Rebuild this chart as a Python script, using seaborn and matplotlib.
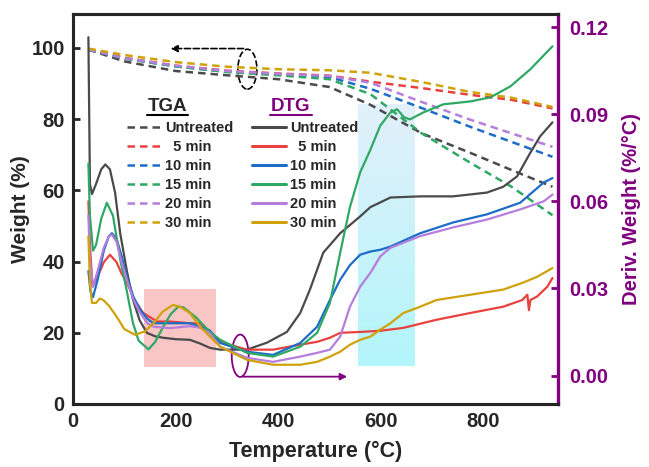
import numpy as np
import pandas as pd
import seaborn as sns
import matplotlib.pyplot as plt
from matplotlib.lines import Line2D
from matplotlib.patches import Ellipse, Rectangle
from matplotlib.colors import LinearSegmentedColormap

samples = ["Untreated", "5 min", "10 min", "15 min", "20 min", "30 min"]
legend_labels = ["Untreated", "  5 min", "10 min", "15 min", "20 min", "30 min"]
colors = ["#4a4a4a", "#e8413e", "#1c6cc8", "#2fa865", "#b57edc", "#cfa20a"]

# TGA (weight %, left axis)
tga_T = [30, 100, 200, 300, 400, 500, 580, 680, 775, 855, 935]
tga_untreated = [99.5, 96.2, 93.5, 92.3, 91.2, 89.0, 84.0, 76.0, 70.5, 65.7, 61.0]
tga_5 = [99.5, 97.2, 95.0, 93.6, 92.8, 92.2, 90.5, 88.7, 86.8, 85.4, 83.0]
tga_10 = [99.5, 97.0, 94.8, 93.3, 92.5, 91.8, 88.5, 83.1, 77.8, 73.6, 69.4]
tga_15 = [99.5, 97.0, 94.8, 93.2, 92.3, 91.2, 87.0, 76.0, 67.7, 61.0, 53.0]
tga_20 = [99.5, 97.1, 95.0, 93.5, 92.7, 92.1, 90.2, 84.8, 79.8, 76.0, 72.2]
tga_30 = [99.8, 98.0, 96.0, 94.7, 94.0, 93.7, 93.0, 90.4, 87.6, 86.0, 83.4]

# DTG (%/°C, right axis)
dtg_untreated_T = [30, 33, 37, 45, 55, 63, 72, 82, 92, 105, 117, 130, 144, 160, 176, 200, 228, 248, 267,
                   287, 339, 378, 417, 443, 462, 488, 521, 560, 580, 599, 619, 677, 741, 807, 839, 866,
                   892, 911, 935]
dtg_untreated = [0.1165, 0.066, 0.0625, 0.066, 0.071, 0.0727, 0.071, 0.063, 0.049, 0.036, 0.026, 0.019,
                 0.0147, 0.0135, 0.013, 0.0125, 0.0123, 0.011, 0.0095, 0.0089, 0.0089, 0.0113, 0.015,
                 0.0215, 0.0296, 0.0423, 0.049, 0.0548, 0.058, 0.0596, 0.0613, 0.0617, 0.0617, 0.063,
                 0.065, 0.0686, 0.0768, 0.0824, 0.0872]
dtg_5_T = [30, 33, 38, 48, 60, 72, 85, 95, 105, 120, 137, 164, 189, 228, 248, 267, 287, 339, 390, 443,
           476, 501, 521, 560, 599, 644, 709, 774, 839, 876, 886, 889, 892, 905, 925, 935]
dtg_5 = [0.060, 0.045, 0.0306, 0.034, 0.039, 0.0416, 0.039, 0.035, 0.032, 0.026, 0.0215, 0.0186, 0.0186,
         0.018, 0.018, 0.015, 0.0116, 0.0089, 0.0089, 0.0106, 0.0116, 0.013, 0.0147, 0.015, 0.0154,
         0.0164, 0.0192, 0.0215, 0.0237, 0.026, 0.0278, 0.0225, 0.026, 0.0272, 0.0306, 0.0336]
dtg_10_T = [30, 34, 39, 48, 60, 70, 76, 85, 95, 105, 118, 131, 145, 157, 189, 228, 248, 267, 287, 339,
            390, 443, 476, 501, 521, 540, 560, 580, 599, 619, 677, 741, 807, 872, 918, 935]
dtg_10 = [0.036, 0.029, 0.027, 0.033, 0.043, 0.048, 0.049, 0.047, 0.041, 0.034, 0.027, 0.0226, 0.0195,
          0.018, 0.018, 0.018, 0.0168, 0.0155, 0.0112, 0.0082, 0.0071, 0.0112, 0.0168, 0.026, 0.033,
          0.038, 0.0416, 0.0427, 0.0433, 0.0444, 0.049, 0.0527, 0.0555, 0.0595, 0.0665, 0.068]
dtg_15_T = [30, 33, 39, 45, 55, 66, 78, 92, 105, 117, 128, 147, 160, 176, 190, 205, 215, 240, 267, 287,
            339, 390, 443, 476, 501, 521, 540, 560, 580, 599, 619, 632, 645, 657, 683, 722, 775, 814,
            853, 892, 935]
dtg_15 = [0.073, 0.055, 0.043, 0.045, 0.054, 0.0595, 0.055, 0.040, 0.029, 0.018, 0.012, 0.009, 0.0115,
          0.0168, 0.021, 0.0237, 0.0235, 0.020, 0.015, 0.0123, 0.0078, 0.0065, 0.0099, 0.0147, 0.025,
          0.0423, 0.058, 0.070, 0.0778, 0.086, 0.0906, 0.0917, 0.089, 0.0882, 0.0906, 0.0934, 0.0944,
          0.0958, 0.0996, 0.1055, 0.1134]
dtg_20_T = [30, 33, 39, 48, 60, 70, 76, 85, 95, 105, 118, 131, 145, 157, 189, 228, 248, 267, 287, 339,
            390, 443, 476, 501, 521, 540, 560, 580, 599, 619, 677, 741, 807, 872, 918, 935]
dtg_20 = [0.055, 0.040, 0.0306, 0.036, 0.044, 0.048, 0.0485, 0.046, 0.039, 0.033, 0.026, 0.0215, 0.018,
          0.0168, 0.0163, 0.017, 0.0165, 0.0145, 0.0099, 0.0061, 0.0047, 0.0065, 0.0078, 0.0089, 0.0134,
          0.0237, 0.0306, 0.0354, 0.041, 0.044, 0.048, 0.051, 0.0537, 0.0572, 0.060, 0.0623]
dtg_30_T = [30, 33, 37, 45, 52, 59, 70, 85, 100, 121, 140, 157, 175, 195, 210, 228, 248, 267, 287, 339,
            390, 443, 476, 501, 521, 540, 560, 580, 599, 619, 644, 677, 709, 774, 839, 878, 905, 935]
dtg_30 = [0.048, 0.032, 0.025, 0.025, 0.0265, 0.026, 0.024, 0.0203, 0.016, 0.014, 0.0152, 0.018, 0.022,
          0.0243, 0.0235, 0.0215, 0.0168, 0.0134, 0.0099, 0.0054, 0.0037, 0.0037, 0.0047, 0.0065,
          0.0082, 0.0106, 0.0123, 0.0134, 0.0158, 0.018, 0.0215, 0.0237, 0.026, 0.0278, 0.0296, 0.032,
          0.034, 0.037]

tga = pd.concat([pd.DataFrame({"T": tga_T, "W": w, "Sample": s}) for s, w in
                 zip(samples, [tga_untreated, tga_5, tga_10, tga_15, tga_20, tga_30])])
dtg = pd.concat([pd.DataFrame({"T": t, "D": d, "Sample": s}) for s, t, d in
                 zip(samples,
                     [dtg_untreated_T, dtg_5_T, dtg_10_T, dtg_15_T, dtg_20_T, dtg_30_T],
                     [dtg_untreated, dtg_5, dtg_10, dtg_15, dtg_20, dtg_30])])

sns.set_style("white")
plt.rcParams["font.family"] = ["Liberation Sans", "DejaVu Sans"]
plt.rcParams["font.weight"] = "bold"
purple = "#800080"

fig = plt.figure(figsize=(6.49, 4.67), dpi=100)
ax = fig.add_axes([0.1125, 0.135, 0.7475, 0.835])
ax2 = ax.twinx()

# highlight boxes
ax.add_patch(Rectangle((139, 10.4), 140, 21.9, color="#f9c6c6", lw=0, zorder=0))
cyan = LinearSegmentedColormap.from_list("cy", ["#b2f6fb", "#e2f0fa"])
ax.imshow(np.linspace(0, 1, 100).reshape(-1, 1)[::-1], cmap=cyan, aspect="auto",
          extent=[556, 667, 10.7, 84.0], origin="upper", zorder=0)

sns.lineplot(data=tga, x="T", y="W", hue="Sample", hue_order=samples, palette=colors,
             ax=ax, legend=False, lw=1.8, dashes=False, linestyle=(0, (3, 2)))
sns.lineplot(data=dtg, x="T", y="D", hue="Sample", hue_order=samples, palette=colors,
             ax=ax2, legend=False, lw=1.6)

ax.set_xlim(0, 946)
ax.set_ylim(0, 109.5)
ax2.set_ylim(-0.0098, 0.1245)
ax.set_xticks([0, 200, 400, 600, 800])
ax.set_yticks([0, 20, 40, 60, 80, 100])
ax2.set_yticks([0, 0.03, 0.06, 0.09, 0.12])
ax2.set_yticklabels(["0.00", "0.03", "0.06", "0.09", "0.12"])

ax.set_xlabel("Temperature (°C)", fontsize=15.5, fontweight="bold", labelpad=7)
ax.set_ylabel("Weight (%)", fontsize=15, fontweight="bold", labelpad=1)
ax2.set_ylabel("Deriv. Weight (%/°C)", fontsize=14.5, fontweight="bold", color=purple, labelpad=10)

ax.tick_params(axis="both", direction="in", length=5, width=2, labelsize=14.5, pad=6)
ax2.tick_params(axis="y", direction="in", length=5, width=2, labelsize=14.5, colors=purple, pad=8)
for lab in ax.get_xticklabels() + ax.get_yticklabels() + ax2.get_yticklabels():
    lab.set_fontweight("bold")
for s in ["left", "bottom", "top"]:
    ax.spines[s].set_linewidth(2.2)
    ax2.spines[s].set_linewidth(2.2)
ax2.spines["right"].set_linewidth(2.4)
ax2.spines["right"].set_color(purple)
ax.spines["right"].set_visible(False)

# annotations
ax.add_patch(Ellipse((340, 94), 37, 11.2, fill=False, ls="--", lw=1.2, ec="black"))
ax.annotate("", xy=(185, 99.8), xytext=(338, 99.8),
            arrowprops=dict(arrowstyle="-|>", ls="--", lw=1.2, color="black", mutation_scale=10))
ax2.add_patch(Ellipse((326, 0.0068), 33, 0.0146, fill=False, lw=1.3, ec=purple))
ax2.annotate("", xy=(540, -0.0004), xytext=(326, -0.0004),
             arrowprops=dict(arrowstyle="-|>", lw=1.3, color=purple, mutation_scale=10))

# legends
tga_handles = [Line2D([], [], color=c, lw=1.8, ls=(0, (3, 2))) for c in colors]
dtg_handles = [Line2D([], [], color=c, lw=2.2) for c in colors]
kw = dict(frameon=False, fontsize=10.5, handlelength=2.3, handletextpad=0.3,
          labelspacing=0.34, borderpad=0, borderaxespad=0, loc="upper left")
leg1 = ax2.legend(tga_handles, legend_labels, bbox_to_anchor=(0.111, 0.725), **kw)
ax2.add_artist(leg1)
ax2.legend(dtg_handles, legend_labels, bbox_to_anchor=(0.369, 0.725), **kw)

ax2.text(0.194, 0.752, "TGA", transform=ax2.transAxes, ha="center", va="baseline",
         fontsize=13.5, fontweight="bold")
ax2.plot([0.152, 0.236], [0.742, 0.742], transform=ax2.transAxes, color="black", lw=1.5)
ax2.text(0.449, 0.752, "DTG", transform=ax2.transAxes, ha="center", va="baseline",
         fontsize=13.5, fontweight="bold", color=purple)
ax2.plot([0.406, 0.492], [0.742, 0.742], transform=ax2.transAxes, color=purple, lw=1.5)

fig.savefig("out.png", dpi=100)
